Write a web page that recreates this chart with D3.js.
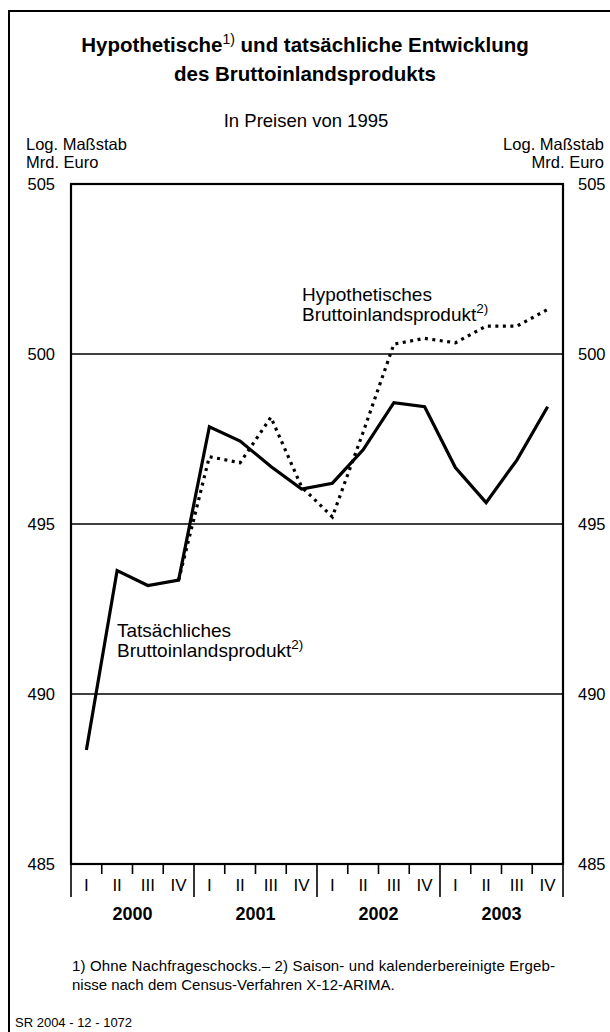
<!DOCTYPE html>
<html><head><meta charset="utf-8">
<script src="https://cdn.jsdelivr.net/npm/d3@7/dist/d3.min.js"></script>
<style>
html,body{margin:0;padding:0;background:#fff;}
svg{display:block;font-family:"Liberation Sans",Arial,Helvetica,sans-serif;}
</style></head>
<body>
<svg id="chart" width="610" height="1032"></svg>
<script>
const years = ["2000","2001","2002","2003"];
const quarterLabels = ["I","II","III","IV"];
const categories = years.flatMap(y => quarterLabels.map(q => y + "-" + q));
const actualValues = [488.35, 493.63, 493.19, 493.35, 497.86, 497.44, 496.69, 496.03,
                      496.20, 497.18, 498.57, 498.45, 496.66, 495.63, 496.88, 498.45];
// hypothetical series starts at 2000-IV
const hypoValues = [null, null, null, 493.35, 496.98, 496.80, 498.14, 496.09,
                    495.21, 497.70, 500.29, 500.46, 500.33, 500.82, 500.82, 501.31];
const yTicks = [485, 490, 495, 500, 505];
const gridValues = [490, 495, 500];

const svg = d3.select("#chart");
const L = 71, R = 563, T = 184, B = 864;

const x = d3.scaleBand().domain(categories).range([L, R]).paddingInner(0).paddingOuter(0);
const y = d3.scaleLinear().domain([485, 505]).range([B, T]);

// outer frame
svg.append("path").attr("d", `M9,1040 V11 H620`).attr("fill","none").attr("stroke","#000").attr("stroke-width",2);

// titles
const title = svg.append("text").attr("x",305).attr("y",52).attr("text-anchor","middle")
  .attr("font-size",20.5).attr("font-weight","bold");
title.append("tspan").text("Hypothetische");
title.append("tspan").attr("font-size",14).attr("font-weight","normal").attr("dy",-8).text("1)");
title.append("tspan").attr("dy",8).text(" und tatsächliche Entwicklung");
svg.append("text").attr("x",305).attr("y",81).attr("text-anchor","middle")
  .attr("font-size",20.5).attr("font-weight","bold").text("des Bruttoinlandsprodukts");

svg.append("text").attr("x",306).attr("y",127).attr("text-anchor","middle")
  .attr("font-size",18.5).text("In Preisen von 1995");

[["Log. Maßstab",150],["Mrd. Euro",168]].forEach(([t,yy])=>{
  svg.append("text").attr("x",26).attr("y",yy).attr("font-size",16.5).text(t);
  svg.append("text").attr("x",604).attr("y",yy).attr("text-anchor","end").attr("font-size",16.5).text(t);
});

// gridlines
svg.append("g").selectAll("line").data(gridValues).join("line")
  .attr("x1",L).attr("x2",R).attr("y1",d=>y(d)).attr("y2",d=>y(d))
  .attr("stroke","#000").attr("stroke-width",1.3);

// y axes (labels only)
const yAxisL = d3.axisLeft(y).tickValues(yTicks).tickSize(0).tickPadding(16).tickFormat(d3.format("d"));
const gL = svg.append("g").attr("transform",`translate(${L},0)`).call(yAxisL);
const yAxisR = d3.axisRight(y).tickValues(yTicks).tickSize(0).tickPadding(15).tickFormat(d3.format("d"));
const gR = svg.append("g").attr("transform",`translate(${R},0)`).call(yAxisR);
[gL,gR].forEach(g=>{
  g.select(".domain").remove();
  g.selectAll("text").attr("font-size",16.5).attr("font-family","Liberation Sans, Arial, sans-serif").attr("fill","#000");
});

// plot frame
svg.append("rect").attr("x",L).attr("y",T).attr("width",R-L).attr("height",B-T)
  .attr("fill","none").attr("stroke","#000").attr("stroke-width",2.2);

// x axis ticks
const boundaries = d3.range(categories.length + 1);
const step = x.step();
svg.append("g").selectAll("line").data(boundaries).join("line")
  .attr("x1",i=>L + i*step).attr("x2",i=>L + i*step)
  .attr("y1",B).attr("y2",i=> i%4===0 ? 897 : 874)
  .attr("stroke","#000").attr("stroke-width",1.6);

// quarter labels
svg.append("g").selectAll("text").data(categories).join("text")
  .attr("x",d=>x(d)+x.bandwidth()/2).attr("y",891).attr("text-anchor","middle")
  .attr("font-size",17).text(d=>d.split("-")[1]);

// year labels
svg.append("g").selectAll("text").data(years).join("text")
  .attr("x",d=>(x(d+"-I") + x(d+"-IV") + x.bandwidth())/2).attr("y",920)
  .attr("text-anchor","middle").attr("font-size",18).attr("font-weight","bold").text(d=>d);

// lines
const line = d3.line().defined(d=>d.v!=null).x(d=>x(d.c)+x.bandwidth()/2).y(d=>y(d.v));
const actualData = categories.map((c,i)=>({c,v:actualValues[i]}));
const hypoData = categories.map((c,i)=>({c,v:hypoValues[i]}));

svg.append("path").datum(hypoData).attr("d",line).attr("fill","none").attr("stroke","#000")
  .attr("stroke-width",3.2).attr("stroke-dasharray","3,4.5");
svg.append("path").datum(actualData).attr("d",line).attr("fill","none").attr("stroke","#000")
  .attr("stroke-width",3.2).attr("stroke-linejoin","miter");

// series labels
function seriesLabel(x0, y0, l1) {
  svg.append("text").attr("x",x0).attr("y",y0).attr("font-size",19).text(l1);
  const t = svg.append("text").attr("x",x0).attr("y",y0+20).attr("font-size",19);
  t.append("tspan").text("Bruttoinlandsprodukt");
  t.append("tspan").attr("font-size",13.5).attr("dy",-8).text("2)");
}
seriesLabel(302, 301, "Hypothetisches");
seriesLabel(117, 637, "Tatsächliches");

// footnotes
svg.append("text").attr("x",72).attr("y",971).attr("font-size",15)
  .attr("textLength",483).attr("lengthAdjust","spacing")
  .text("1) Ohne Nachfrageschocks.– 2) Saison- und kalenderbereinigte Ergeb-");
svg.append("text").attr("x",72).attr("y",990).attr("font-size",15)
  .text("nisse nach dem Census-Verfahren X-12-ARIMA.");
svg.append("text").attr("x",15).attr("y",1027).attr("font-size",13).text("SR 2004 - 12 - 1072");
</script>
</body></html>
